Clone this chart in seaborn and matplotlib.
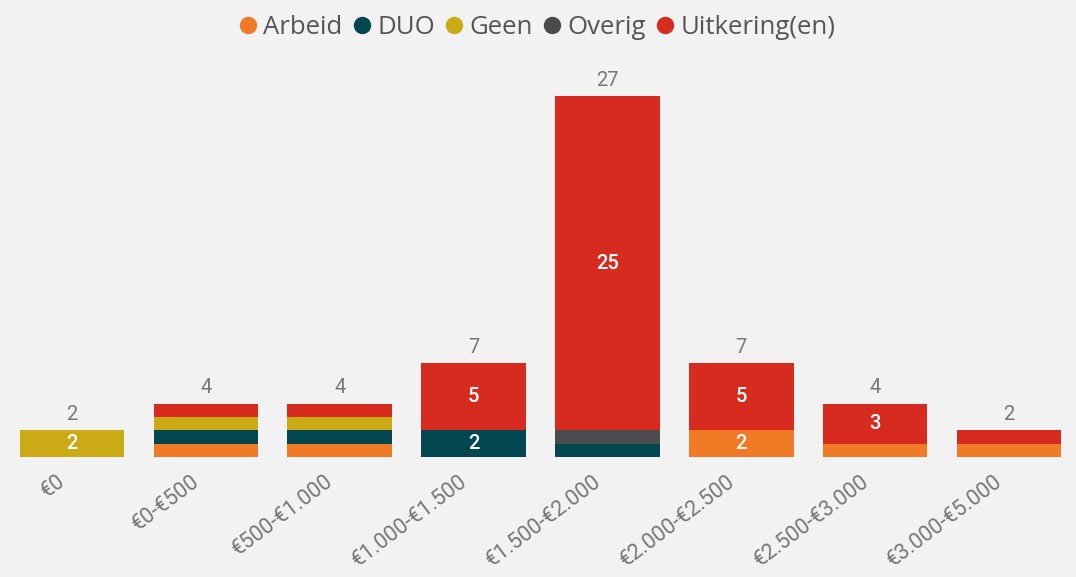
import numpy as np
import pandas as pd
import seaborn as sns
import matplotlib.pyplot as plt
from matplotlib.lines import Line2D
from matplotlib.transforms import ScaledTranslation

# Data
categories = ["€0", "€0-€500", "€500-€1.000", "€1.000-€1.500", "€1.500-€2.000",
              "€2.000-€2.500", "€2.500-€3.000", "€3.000-€5.000"]
series = ["Arbeid", "DUO", "Geen", "Overig", "Uitkering(en)"]
arbeid = [0, 1, 1, 0, 0, 2, 1, 1]
duo = [0, 1, 1, 2, 1, 0, 0, 0]
geen = [2, 1, 1, 0, 0, 0, 0, 0]
overig = [0, 0, 0, 0, 1, 0, 0, 0]
uitkering = [0, 1, 1, 5, 25, 5, 3, 1]
colors = ["#F07A26", "#02464F", "#CBAB15", "#4A4B4D", "#D82B20"]

values = [arbeid, duo, geen, overig, uitkering]
df = pd.DataFrame({"Categorie": categories})
for name, vals in zip(series, values):
    df[name] = vals

bg = "#F2F2F2"
sns.set_style("white")
plt.rcParams["font.family"] = ["Roboto", "DejaVu Sans"]

fig = plt.figure(figsize=(10.76, 5.77), dpi=100, facecolor=bg)
ax = fig.add_axes([0.0046, 0.208, 0.9954, 0.6707])
ax.set_facecolor(bg)

# stacked bars, one seaborn call per series
bottom = np.zeros(len(categories))
for name, col in zip(series, colors):
    sns.barplot(data=df, x="Categorie", y=name, order=categories, bottom=bottom,
                color=col, width=0.78, linewidth=0, saturation=1, ax=ax)
    for i, v in enumerate(df[name]):
        if v >= 2:
            ax.text(i, bottom[i] + v / 2, str(v), ha="center", va="center",
                    color="white", fontsize=14.5, fontweight="medium")
    bottom = bottom + df[name].values

# totals above the bars
for i, tot in enumerate(bottom):
    ax.annotate(str(int(tot)), (i, tot), xytext=(0, 4.5), textcoords="offset points",
                ha="center", va="bottom", color="#777777", fontsize=14.5)

ax.set_xlim(-0.5, len(categories) - 0.5)
ax.set_ylim(0, 28.95)
ax.set_yticks([])
ax.set_xlabel("")
ax.set_ylabel("")
sns.despine(ax=ax, left=True, bottom=True)
ax.tick_params(axis="x", length=0, pad=0)
ax.set_xticks(range(len(categories)))
ax.set_xticklabels(categories, rotation=37, ha="right", va="top",
                   rotation_mode="anchor", color="#777777", fontsize=15.5)
offset = ScaledTranslation(-15 / 100, -14 / 100, fig.dpi_scale_trans)
for lbl in ax.get_xticklabels():
    lbl.set_transform(lbl.get_transform() + offset)

# legend on top
handles = [Line2D([0], [0], marker="o", linestyle="", markersize=11.5,
                  markerfacecolor=c, markeredgecolor=c) for c in colors]
fig.legend(handles, series, loc="center", bbox_to_anchor=(0.5, 0.953), ncol=5,
           frameon=False, handlelength=0.6, handletextpad=0.3, columnspacing=0.45,
           labelcolor="#555555", prop={"family": ["Open Sans", "DejaVu Sans"], "size": 18.5})

fig.savefig("out.png", dpi=100, facecolor=bg)
